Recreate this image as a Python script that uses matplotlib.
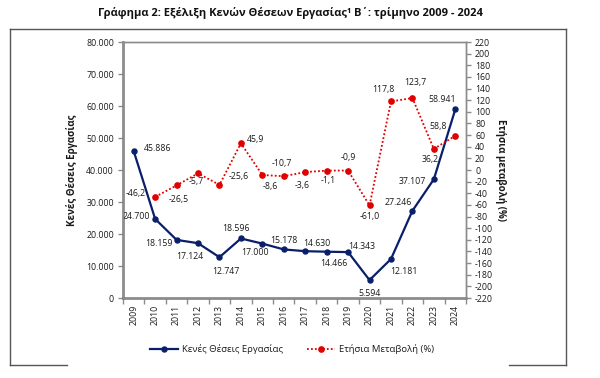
import matplotlib
matplotlib.use("Agg")
import matplotlib.pyplot as plt
from matplotlib.lines import Line2D

plt.rcParams['font.family'] = ['Open Sans', 'DejaVu Sans']
plt.rcParams['axes.unicode_minus'] = False

years = ['2009', '2010', '2011', '2012', '2013', '2014', '2015', '2016',
         '2017', '2018', '2019', '2020', '2021', '2022', '2023', '2024']
vacancies = [45886, 24700, 18159, 17124, 12747, 18596, 17000, 15178,
             14630, 14466, 14343, 5594, 12181, 27246, 37107, 58941]
change_years = years[1:]
annual_change = [-46.2, -26.5, -5.7, -25.6, 45.9, -8.6, -10.7, -3.6,
                 -1.1, -0.9, -61.0, 117.8, 123.7, 36.2, 58.8]

# label offsets in pixels (dx, dy) - layout only
blue_off = [(24, 3), (-19, 2), (-18, -4), (-8, -13), (6, -14), (-5, 10), (-7, -9),
            (0, 9), (12, 8), (7, -12), (14, 6), (0, -13), (13, -12), (-14, 8),
            (-22, -2), (-13, 10)]
red_off = [(-19, 3), (2, -14), (-2, -8), (19, 8), (15, 4), (8, -11), (-2, 13),
           (-3, -13), (2, -10), (0, 13), (0, -11), (-8, 12), (3, 16), (-4, -11),
           (-17, 9)]

BLUE = '#0a1f6b'
RED = '#e00000'
GRAY = '#8c8c8c'
TXT = '#1a1a1a'

fig = plt.figure(figsize=(6.0, 3.78), dpi=100)

# outer frame (with gap at bottom)
W, H = 600.0, 378.0
def fx(x): return x / W
def fy(y): return 1 - y / H
frame_kw = dict(color='#555555', lw=1.0, transform=fig.transFigure)
fig.add_artist(Line2D([fx(10), fx(10)], [fy(29), fy(365)], **frame_kw))
fig.add_artist(Line2D([fx(10), fx(566)], [fy(29), fy(29)], **frame_kw))
fig.add_artist(Line2D([fx(566), fx(566)], [fy(29), fy(365)], **frame_kw))
fig.add_artist(Line2D([fx(10), fx(67)], [fy(365), fy(365)], **frame_kw))
fig.add_artist(Line2D([fx(509), fx(566)], [fy(365), fy(365)], **frame_kw))

fig.text(fx(290), fy(13), 'Γράφημα 2: Εξέλιξη Κενών Θέσεων Εργασίας¹ Β΄: τρίμηνο 2009 - 2024',
         ha='center', va='center', fontsize=8.0, fontweight='bold', color='#111111')

ax = fig.add_axes([fx(123), fy(298), (466 - 123) / W, (298 - 42) / H])
ax2 = ax.twinx()

x = list(range(len(years)))
xr = list(range(1, len(years)))

ax.plot(x, vacancies, color=BLUE, lw=1.6, marker='o', ms=3.6, zorder=3)
ax2.plot(xr, annual_change, color=RED, lw=1.3, ls=(0, (1, 1.2)), marker='o', ms=3.8, zorder=3)

ax.set_xlim(-0.5, len(years) - 0.5)
ax.set_ylim(0, 80000)
ax2.set_ylim(-220, 220)
ax.set_yticks(range(0, 80001, 10000))
ax.set_yticklabels([f'{v:,}'.replace(',', '.') for v in range(0, 80001, 10000)])
ax2.set_yticks(range(-220, 221, 20))
ax.set_xticks(x)
ax.set_xticklabels(years, rotation=90)
ax.set_xticks([i - 0.5 for i in range(len(years) + 1)], minor=True)
ax.tick_params(axis='x', which='major', length=0, pad=5, labelsize=6.3, labelcolor=TXT)
ax.tick_params(axis='x', which='minor', length=4, color=GRAY, width=1)
ax.tick_params(axis='y', length=3.5, color=GRAY, width=1, labelsize=6.3, labelcolor=TXT, pad=3)
ax2.tick_params(axis='y', length=3.5, color=GRAY, width=1, labelsize=6.3, labelcolor=TXT, pad=3)

for a in (ax, ax2):
    for s in a.spines.values():
        s.set_color(GRAY)
        s.set_linewidth(1.0)
ax.spines['left'].set_linewidth(1.8)
ax.spines['left'].set_color('#7a7a7a')
ax.spines['bottom'].set_linewidth(1.8)
ax.spines['bottom'].set_color('#7a7a7a')

ax.set_ylabel('Κενές Θέσεις Εργασίας', fontsize=7, fontweight='bold', color=TXT, labelpad=6)
ax2.set_ylabel('Ετήσια μεταβολή (%)', fontsize=7, fontweight='bold', color=TXT,
               rotation=-90, labelpad=9)

for xi, v, (dx, dy) in zip(x, vacancies, blue_off):
    ax.annotate(f'{v:,}'.replace(',', '.'), (xi, v), xytext=(dx, dy),
                textcoords='offset pixels', ha='center', va='center',
                fontsize=6.3, color=TXT, zorder=5)
for xi, v, (dx, dy) in zip(xr, annual_change, red_off):
    ax2.annotate(f'{v:.1f}'.replace('.', ','), (xi, v), xytext=(dx, dy),
                 textcoords='offset pixels', ha='center', va='center',
                 fontsize=6.3, color=TXT, zorder=5)

handles = [Line2D([], [], color=BLUE, lw=1.6, marker='o', ms=3.6),
           Line2D([], [], color=RED, lw=1.3, ls=(0, (1, 1.2)), marker='o', ms=3.8)]
fig.legend(handles, ['Κενές Θέσεις Εργασίας', 'Ετήσια Μεταβολή (%)'],
           loc='center', bbox_to_anchor=(fx(292), fy(349)), ncol=2, frameon=False,
           fontsize=6.8, handlelength=3.0, columnspacing=2.5, handletextpad=0.4,
           labelcolor=TXT)

fig.savefig('out.png', dpi=100)
